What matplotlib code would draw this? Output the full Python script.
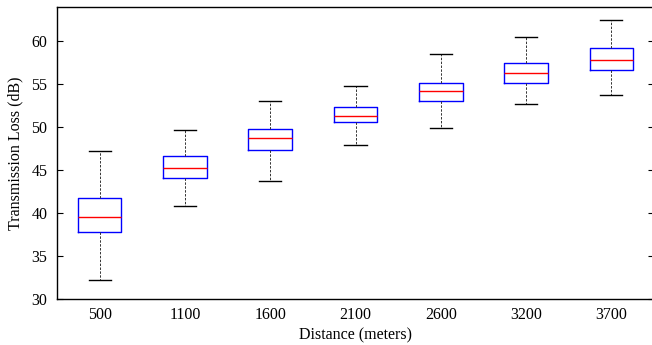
import matplotlib
matplotlib.use("Agg")
import matplotlib.pyplot as plt

distances = ["500", "1100", "1600", "2100", "2600", "3200", "3700"]
whisker_low = [32.2, 40.8, 43.7, 47.9, 49.9, 52.7, 53.7]
q1 = [37.8, 44.1, 47.4, 50.6, 53.1, 55.2, 56.7]
median = [39.6, 45.2, 48.7, 51.3, 54.2, 56.3, 57.8]
q3 = [41.8, 46.7, 49.8, 52.4, 55.2, 57.5, 59.2]
whisker_high = [47.2, 49.7, 53.0, 54.8, 58.5, 60.5, 62.5]

plt.rcParams['font.family'] = ['Liberation Serif', 'DejaVu Serif']

fig = plt.figure(figsize=(6.52, 3.45), dpi=100)
ax = fig.add_axes([57/652, 46/345, 597/652, 292/345])

stats = []
for i, d in enumerate(distances):
    stats.append(dict(label=d, whislo=whisker_low[i], q1=q1[i], med=median[i],
                      q3=q3[i], whishi=whisker_high[i], fliers=[]))

positions = list(range(1, len(distances) + 1))
ax.bxp(stats, positions=positions, widths=0.51, showfliers=False,
       boxprops=dict(color='#0000ff', linewidth=1.0),
       medianprops=dict(color='#ff0000', linewidth=1.0),
       whiskerprops=dict(color='#333333', linewidth=0.7, linestyle=(0, (2.5, 1.5))),
       capprops=dict(color='black', linewidth=1.0),
       capwidths=0.26)

ax.set_xlim(0.5, 7.5)
ax.set_ylim(30, 64)
ax.set_yticks([30, 35, 40, 45, 50, 55, 60])
ax.set_xticks(positions)
ax.set_xticklabels(distances)
ax.tick_params(axis='y', direction='in', left=True, right=True, length=4,
               labelsize=11.5, width=0.8, pad=7)
ax.tick_params(axis='x', length=0, labelsize=11.5, pad=6)
ax.set_xlabel("Distance (meters)", fontsize=11.5, labelpad=3)
ax.set_ylabel("Transmission Loss (dB)", fontsize=11.5, labelpad=6)
for s in ax.spines.values():
    s.set_linewidth(1.0)

fig.savefig("out.png", dpi=100)
